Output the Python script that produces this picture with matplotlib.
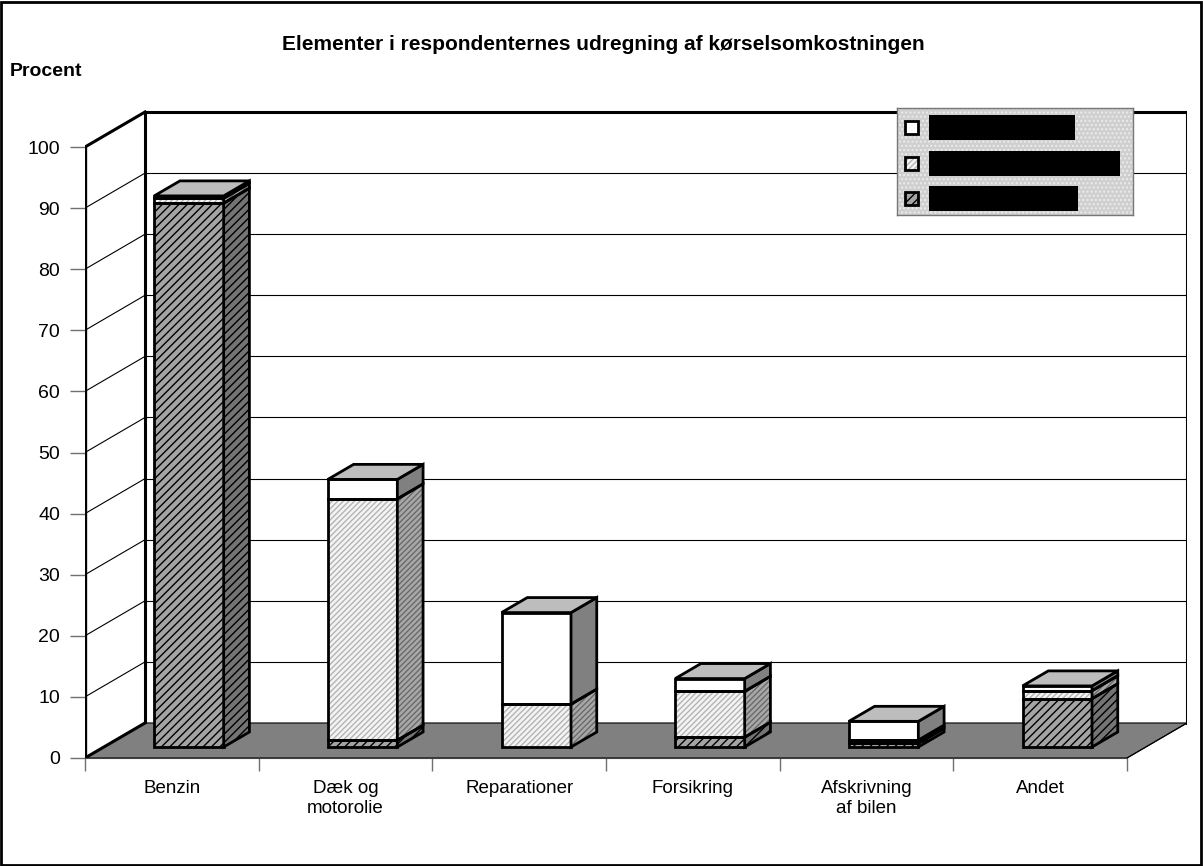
import matplotlib.pyplot as plt
from matplotlib.patches import Polygon, Rectangle

# data (percent, stacked bottom -> top)
categories = ["Benzin", "Dæk og\nmotorolie", "Reparationer", "Forsikring",
              "Afskrivning\naf bilen", "Andet"]
dark_vals = [89.0, 1.1, 0.0, 1.6, 0.6, 7.9]
light_vals = [0.8, 39.5, 7.0, 7.5, 0.5, 1.3]
white_vals = [0.4, 3.2, 15.0, 2.1, 3.1, 0.8]
y_ticks = list(range(0, 101, 10))

plt.rcParams['font.family'] = ['Liberation Sans', 'DejaVu Sans']
plt.rcParams['hatch.linewidth'] = 1.0

W, H = 1203, 866
DX = 0.3455    # depth offset of the back wall, in categories
DY = 5.73      # depth offset of the back wall, in percent
WALL_TOP = 100
D0, D1 = 0.314, 0.743   # bar front / back depth
BAR_HALF = 0.2

fig = plt.figure(figsize=(W / 100, H / 100), dpi=100)
ax = fig.add_axes([85 / W, (H - 758) / H, 1102 / W, 673 / H])
ax.set_xlim(0, 6 + DX)
ax.set_ylim(0, 110.15)
for s in ax.spines.values():
    s.set_visible(False)
ax.patch.set_alpha(0)


def P(x, v, d):
    return (x + d * DX, v + d * DY)


# back wall + side wall
ax.add_patch(Polygon([P(0, 0, 1), P(6, 0, 1), P(6, WALL_TOP, 1), P(0, WALL_TOP, 1)],
                     facecolor='white', edgecolor='none', zorder=1))
for v in y_ticks[1:]:
    lw = 2.2 if v == 100 else 0.8
    ax.plot([P(0, v, 1)[0], P(6, v, 1)[0]], [P(0, v, 1)[1], P(6, v, 1)[1]],
            color='black', lw=lw, zorder=1.2, solid_capstyle='projecting')
    ax.plot([0, DX], [v, v + DY], color='black', lw=lw, zorder=1.2)
ax.plot([DX, DX], [DY, DY + WALL_TOP], color='black', lw=2.2, zorder=1.3)
ax.plot([6 + DX, 6 + DX], [DY, DY + WALL_TOP], color='black', lw=2.2, zorder=1.3)

# floor
ax.add_patch(Polygon([P(0, 0, 0), P(6, 0, 0), P(6, 0, 1), P(0, 0, 1)],
                     facecolor='#808080', edgecolor='black', lw=0.8, zorder=1.5))
ax.plot([0, DX], [0, DY], color='black', lw=2.2, zorder=1.6)
ax.plot([0, 0], [0, 100], color='black', lw=2.4, zorder=1.6)

# (front colour, side colour, hatch, hatch colour, side hatch colour)
styles = [
    ('#a4a4a4', '#747474', '////', 'black', 'black'),
    ('#f4f4f4', '#a8a8a8', '//////', '#b4b4b4', '#6a6a6a'),
    ('white', '#808080', None, None, None),
]


def face(pts, fc, hatch, hc, z):
    if hatch:
        ax.add_patch(Polygon(pts, facecolor=fc, edgecolor=hc, hatch=hatch, lw=0, zorder=z))
    else:
        ax.add_patch(Polygon(pts, facecolor=fc, edgecolor='none', zorder=z))
    ax.add_patch(Polygon(pts, fill=False, edgecolor='black', lw=2, joinstyle='miter', zorder=z + 0.01))


for i in range(len(categories)):
    c = i + 0.49
    x0, x1 = c - BAR_HALF, c + BAR_HALF
    base = 0.0
    z = 3 + i
    for vals, (fc, sc, h, hc, shc) in zip([dark_vals, light_vals, white_vals], styles):
        v = vals[i]
        if v <= 0:
            continue
        top = base + v
        face([P(x0, base, D0), P(x1, base, D0), P(x1, top, D0), P(x0, top, D0)], fc, h, hc, z)
        face([P(x1, base, D0), P(x1, base, D1), P(x1, top, D1), P(x1, top, D0)], sc, h, shc, z + 0.1)
        base = top
    face([P(x0, base, D0), P(x1, base, D0), P(x1, base, D1), P(x0, base, D1)], '#bdbdbd', None, None, z + 0.2)

# axes ticks
ax.set_yticks(y_ticks)
ax.tick_params(axis='y', direction='out', length=11, width=1, color='#707070',
               pad=7, labelsize=14)
ax.set_xticks(range(7))
ax.set_xticklabels([])
ax.set_xticks([i + 0.5 for i in range(6)], minor=True)
ax.set_xticklabels(categories, minor=True, fontsize=13.5, linespacing=1.2)
ax.tick_params(axis='x', which='major', direction='out', length=9, width=1, color='#707070')
ax.tick_params(axis='x', which='minor', length=0, pad=16)
ax.plot([0, 6], [0, 0], color='#404040', lw=0.8, zorder=1.7, clip_on=False)
ax.plot([6, 6 + DX], [0, DY], color='black', lw=0.8, zorder=1.7)

# titles
fig.text(603 / W, 1 - 45 / H, "Elementer i respondenternes udregning af kørselsomkostningen",
         ha='center', va='center', fontsize=15, fontweight='bold')
fig.text(10 / W, 1 - 72 / H, "Procent", ha='left', va='center', fontsize=14, fontweight='bold')

# legend (labels are blacked out in the source)
lax = fig.add_axes([897 / W, (H - 215) / H, 236 / W, 107 / H])
lax.set_xlim(0, 236)
lax.set_ylim(107, 0)
lax.set_xticks([])
lax.set_yticks([])
lax.set_facecolor('#cfcfcf')
lax.add_patch(Rectangle((0, 0), 236, 107, facecolor='#cfcfcf', edgecolor='#ececec',
                        hatch='....', lw=0))
for s in lax.spines.values():
    s.set_color('#777777')
    s.set_linewidth(1)
leg_rows = [(19, 146), (55, 191), (90, 149)]
for (yc, bw), (fc, sc, h, hc, shc) in zip(leg_rows, styles[::-1]):
    if h:
        lax.add_patch(Rectangle((8, yc - 6), 13, 13, facecolor=fc, edgecolor=hc, hatch=h, lw=0))
    else:
        lax.add_patch(Rectangle((8, yc - 6), 13, 13, facecolor=fc, lw=0))
    lax.add_patch(Rectangle((8, yc - 6), 13, 13, fill=False, edgecolor='black', lw=2))
    lax.add_patch(Rectangle((32, yc - 12), bw, 25, facecolor='black', lw=0))

# outer frame
fig.add_artist(Rectangle((0.001, 0.001), 0.997, 0.997, transform=fig.transFigure,
                         fill=False, edgecolor='black', lw=2))

fig.savefig('out.png', dpi=100)
